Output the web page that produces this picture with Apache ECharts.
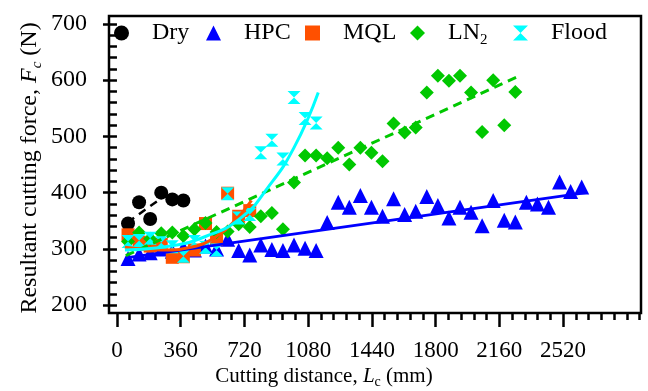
<!DOCTYPE html>
<html><head><meta charset="utf-8">
<script src="https://cdn.jsdelivr.net/npm/echarts@6/dist/echarts.min.js"></script>
<style>html,body{margin:0;padding:0;background:#fff}#c{width:648px;height:391px}</style>
</head><body><div id="c"></div>
<script>
// ---- data ----
const xMajorTicks = [0, 360, 720, 1080, 1440, 1800, 2160, 2520];
const yMajorTicks = [200, 300, 400, 500, 600, 700];

const dryX = [62.5, 125, 187.5, 250, 312.5, 375];
const dryY = [345, 383, 353, 400, 388, 386];

const hpcX = [62.5,125,187.5,250,312.5,375,437.5,500,562.5,625,687.5,750,812.5,875,937.5,1000,1062.5,1125,1187.5,1250,1312.5,1375,1437.5,1500,1562.5,1625,1687.5,1750,1812.5,1875,1937.5,2000,2062.5,2125,2187.5,2250,2312.5,2375,2437.5,2500,2562.5,2625];
const hpcY = [283,291,293,300,296,302,298,305,300,317,297,289,307,299,297,307,301,297,347,383,374,395,374,358,389,361,367,393,377,355,374,365,341,386,351,348,383,380,374,419,402,410];

const mqlX = [62.5,125,187.5,250,312.5,375,437.5,500,562.5,625,687.5,750];
const mqlY = [325,312,305,308,285,286,298,345,317,399,358,368];

const ln2X = [62.5,125,187.5,250,312.5,375,437.5,500,562.5,625,687.5,750,812.5,875,937.5,1000,1062.5,1125,1187.5,1250,1312.5,1375,1437.5,1500,1562.5,1625,1687.5,1750,1812.5,1875,1937.5,2000,2062.5,2125,2187.5,2250];
const ln2Y = [313,329,318,328,329,323,335,346,330,331,344,339,358,364,335,418,466,466,461,480,450,480,471,456,523,507,516,578,608,599,608,578,508,600,520,579];

const floodX = [62.5,125,187.5,250,312.5,375,437.5,500,562.5,625,687.5,750,812.5,875,937.5,1000,1062.5,1125];
const floodY = [313,315,319,311,304,287,313,303,298,398,355,361,471,493,460,569,532,524];

// fitted curves as drawn in the picture
const dryFitX = [60, 250];
const dryFitY = [347, 390];
const hpcFitX = [50, 2650];
const hpcFitY = [284, 400];
const ln2FitX = [50, 2270];
const ln2FitY = [288, 607];
const mqlFitX = [45, 250, 450, 550, 650, 760];
const mqlFitY = [303, 298, 305, 320, 345, 386];
const floodFitX = [45, 300, 500, 700, 850, 1000, 1137];
const floodFitY = [298, 305, 322, 355, 408, 480, 578];

// ---- build ----
const zip = (a, b) => a.map((v, i) => [v, b[i]]);
const xMinor = [];
for (let v = 72; v < 2960; v += 72) { if (v % 360 !== 0 || v > 2520) xMinor.push(v); }
const yMinor = [];
for (let v = 200; v <= 714; v += 20) { if (v % 100 !== 0) yMinor.push(v); }

const FONT = 'Liberation Serif';
const hourglass = 'path://M0,0 L10,0 L5,5 L10,10 L0,10 L5,5 Z';
const C = { dry:'#000000', hpc:'#0000FF', mql:'#FF5000', ln2:'#00C800', flood:'#00FFFF' };

const chart = echarts.init(document.getElementById('c'), null, { renderer: 'canvas' });

function legendItem(name, left) {
  return {
    data: [name], left: left, top: 16, itemWidth: 15, itemHeight: 15, itemGap: 0,
    formatter: n => n === 'LN2' ? '{a|LN}{s|2}' : n,
    textStyle: { fontFamily: FONT, fontSize: 24, color: '#000', padding: [0,0,0,18],
      rich: { a: { fontFamily: FONT, fontSize: 24, color:'#000' }, s: { fontFamily: FONT, fontSize: 15, color:'#000', padding: [14,0,0,0] } } }
  };
}
const plain = v => String(v);

const option = {
  animation: false,
  backgroundColor: '#fff',
  grid: { left: 109, right: 7, top: 16, bottom: 78, show: true, borderColor: '#000', borderWidth: 2.5, backgroundColor: 'transparent' },
  legend: [
    legendItem('Dry', 109), legendItem('HPC', 201), legendItem('MQL', 300), legendItem('LN2', 405), legendItem('Flood', 508)
  ],
  xAxis: [
    { type: 'value', min: -45, max: 2960, position: 'bottom',
      axisLine: { show: false }, splitLine: { show: false },
      axisTick: { show: true, customValues: xMajorTicks, length: 14, lineStyle: { color: '#000', width: 2.5 } },
      axisLabel: { customValues: xMajorTicks, formatter: plain, fontFamily: FONT, fontSize: 23, color: '#000', margin: 26 } },
    { type: 'value', min: -45, max: 2960, position: 'bottom',
      axisLine: { show: false }, splitLine: { show: false },
      axisTick: { show: true, customValues: xMinor, length: 7, lineStyle: { color: '#000', width: 2.5 } },
      axisLabel: { show: false } }
  ],
  yAxis: [
    { type: 'value', min: 186, max: 714, position: 'left',
      axisLine: { show: false }, splitLine: { show: false },
      axisTick: { show: true, customValues: yMajorTicks, length: 14, lineStyle: { color: '#000', width: 2.5 } },
      axisLabel: { customValues: yMajorTicks, formatter: plain, fontFamily: FONT, fontSize: 24, color: '#000', margin: 22 } },
    { type: 'value', min: 186, max: 714, position: 'left',
      axisLine: { show: false }, splitLine: { show: false },
      axisTick: { show: true, customValues: yMinor, length: 7, lineStyle: { color: '#000', width: 2.5 } },
      axisLabel: { show: false } }
  ],
  series: [
    { name: 'Dry', type: 'scatter', data: zip(dryX, dryY), symbol: 'circle', symbolSize: 14, itemStyle: { color: C.dry, opacity: 1 }, z: 3 },
    { name: 'HPC', type: 'scatter', data: zip(hpcX, hpcY), symbol: 'triangle', symbolSize: 15, itemStyle: { color: C.hpc, opacity: 1 }, z: 3 },
    { name: 'MQL', type: 'scatter', data: zip(mqlX, mqlY), symbol: 'rect', symbolSize: 13, itemStyle: { color: C.mql, opacity: 1 }, z: 4 },
    { name: 'LN2', type: 'scatter', data: zip(ln2X, ln2Y), symbol: 'diamond', symbolSize: 14, itemStyle: { color: C.ln2, opacity: 1 }, z: 4 },
    { name: 'Flood', type: 'scatter', data: zip(floodX, floodY), symbol: hourglass, symbolSize: 13, itemStyle: { color: C.flood, opacity: 1 }, z: 5 },
    { name: 'dryFit', type: 'line', data: zip(dryFitX, dryFitY), showSymbol: false, lineStyle: { color: C.dry, width: 2.5, type: [8,6] }, z: 6 },
    { name: 'hpcFit', type: 'line', data: zip(hpcFitX, hpcFitY), showSymbol: false, lineStyle: { color: C.hpc, width: 3 }, z: 6 },
    { name: 'ln2Fit', type: 'line', data: zip(ln2FitX, ln2FitY), showSymbol: false, lineStyle: { color: C.ln2, width: 3, type: [9,6] }, z: 6 },
    { name: 'mqlFit', type: 'line', data: zip(mqlFitX, mqlFitY), smooth: true, showSymbol: false, lineStyle: { color: C.mql, width: 3 }, z: 6 },
    { name: 'floodFit', type: 'line', data: zip(floodFitX, floodFitY), smooth: true, showSymbol: false, lineStyle: { color: C.flood, width: 3 }, z: 7 }
  ],
  graphic: [
    { type: 'text', left: 'center', top: 366,
      style: { text: 'Cutting distance, {i|L}{s|c} (mm)', fontFamily: FONT, fontSize: 21, fill: '#000',
        rich: { i: { fontFamily: FONT, fontSize: 21, fontStyle: 'italic' }, s: { fontFamily: FONT, fontSize: 14, padding: [12,0,0,0] } } } },
    { type: 'text', x: 30, y: 168, rotation: Math.PI / 2,
      style: { text: 'Resultant cutting force, {i|F}{s|c} (N)', fontFamily: FONT, fontSize: 24, fill: '#000', align: 'center', verticalAlign: 'middle',
        rich: { i: { fontFamily: FONT, fontSize: 24, fontStyle: 'italic' }, s: { fontFamily: FONT, fontSize: 15, fontStyle: 'italic', padding: [14,0,0,0] } } } }
  ]
};
chart.setOption(option);
</script></body></html>
